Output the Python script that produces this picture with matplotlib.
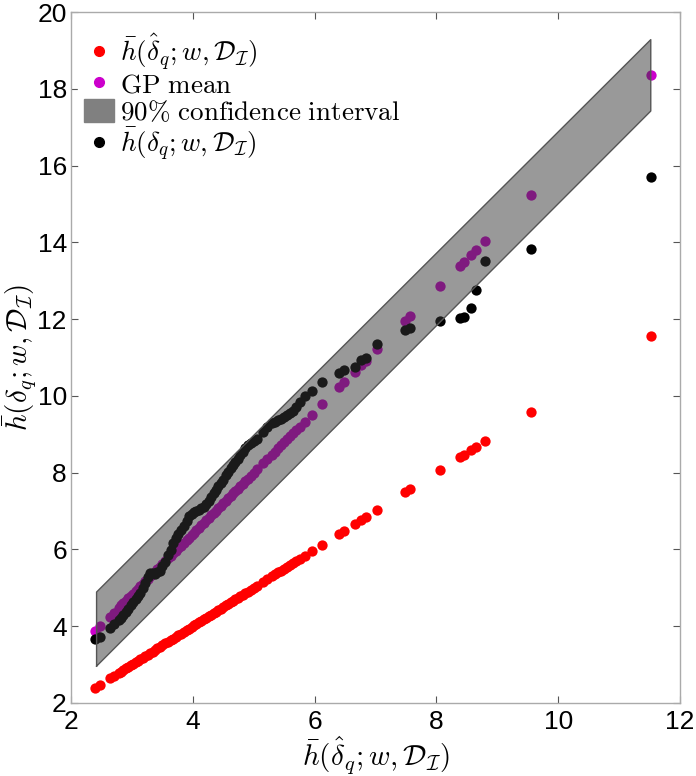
import numpy as np
import matplotlib
matplotlib.use('Agg')
import matplotlib.pyplot as plt
from matplotlib.patches import Patch
from matplotlib.lines import Line2D

# Daten
x_vals = [2.40, 2.48, 2.64, 2.70, 2.78, 2.82, 2.86, 2.90, 2.94, 2.98,
          3.02, 3.06, 3.10, 3.14, 3.18, 3.22, 3.26, 3.30, 3.34, 3.38,
          3.42, 3.46, 3.50, 3.55, 3.60, 3.64, 3.68, 3.72, 3.76, 3.80,
          3.85, 3.90, 3.94, 3.98, 4.02, 4.06, 4.10, 4.14, 4.18, 4.22,
          4.26, 4.30, 4.34, 4.38, 4.42, 4.46, 4.50, 4.54, 4.58, 4.62,
          4.66, 4.70, 4.74, 4.78, 4.82, 4.86, 4.90, 4.95, 5.00, 5.06,
          5.16, 5.22, 5.30, 5.35, 5.40, 5.45, 5.50, 5.55, 5.60, 5.65,
          5.70, 5.76, 5.84, 5.95, 6.12, 6.40, 6.48, 6.66, 6.77, 6.84,
          7.03, 7.49, 7.57, 8.06, 8.39, 8.45, 8.57, 8.65, 8.80, 9.55,
          11.52]

# rote Punkte: h(delta_hat)
red_y = [2.40, 2.48, 2.64, 2.70, 2.78, 2.82, 2.86, 2.90, 2.94, 2.98,
         3.02, 3.06, 3.10, 3.14, 3.18, 3.22, 3.26, 3.30, 3.34, 3.38,
         3.42, 3.46, 3.50, 3.55, 3.60, 3.64, 3.68, 3.72, 3.76, 3.80,
         3.85, 3.90, 3.94, 3.98, 4.02, 4.06, 4.10, 4.14, 4.18, 4.22,
         4.26, 4.30, 4.34, 4.38, 4.42, 4.46, 4.50, 4.54, 4.58, 4.62,
         4.66, 4.70, 4.74, 4.78, 4.82, 4.86, 4.90, 4.95, 5.00, 5.06,
         5.16, 5.22, 5.30, 5.35, 5.40, 5.45, 5.50, 5.55, 5.60, 5.65,
         5.70, 5.76, 5.84, 5.95, 6.12, 6.40, 6.48, 6.66, 6.77, 6.84,
         7.03, 7.50, 7.58, 8.08, 8.41, 8.47, 8.59, 8.67, 8.82, 9.58,
         11.56]

# GP-Mittelwert
gp_mean = [3.87, 4.00, 4.25, 4.34, 4.47, 4.54, 4.60, 4.66, 4.73, 4.79,
           4.85, 4.92, 4.98, 5.04, 5.11, 5.17, 5.23, 5.30, 5.36, 5.42,
           5.49, 5.55, 5.62, 5.69, 5.77, 5.84, 5.90, 5.96, 6.03, 6.09,
           6.17, 6.25, 6.31, 6.38, 6.44, 6.50, 6.57, 6.63, 6.69, 6.76,
           6.82, 6.89, 6.95, 7.01, 7.08, 7.14, 7.20, 7.27, 7.33, 7.39,
           7.46, 7.52, 7.58, 7.65, 7.71, 7.77, 7.84, 7.92, 8.00, 8.09,
           8.25, 8.35, 8.47, 8.55, 8.63, 8.71, 8.79, 8.87, 8.95, 9.03,
           9.11, 9.20, 9.33, 9.51, 9.78, 10.22, 10.35, 10.63, 10.81, 10.92,
           11.22, 11.95, 12.08, 12.86, 13.38, 13.48, 13.67, 13.79, 14.03, 15.24,
           18.35]

# schwarze Punkte: h(delta)
black_y = [3.67, 3.72, 3.95, 4.06, 4.15, 4.21, 4.30, 4.38, 4.45, 4.54,
           4.63, 4.70, 4.78, 4.87, 4.99, 5.12, 5.28, 5.38, 5.38, 5.37,
           5.41, 5.45, 5.57, 5.67, 5.85, 5.99, 6.18, 6.31, 6.41, 6.51,
           6.62, 6.75, 6.86, 6.93, 6.97, 7.00, 7.04, 7.07, 7.11, 7.18,
           7.27, 7.37, 7.47, 7.56, 7.64, 7.72, 7.82, 7.93, 8.03, 8.12,
           8.21, 8.28, 8.36, 8.45, 8.55, 8.65, 8.72, 8.77, 8.82, 8.89,
           9.07, 9.20, 9.29, 9.33, 9.37, 9.41, 9.45, 9.49, 9.55, 9.61,
           9.71, 9.84, 10.01, 10.13, 10.36, 10.60, 10.67, 10.75, 10.93, 10.98,
           11.36, 11.71, 11.77, 11.95, 12.02, 12.05, 12.29, 12.75, 13.51, 13.82,
           15.70]

# 90%-Konfidenzband
band_x = [2.42, 11.52]
band_lo = [2.96, 17.42]
band_hi = [4.89, 19.28]

plt.rcParams['font.family'] = ['Liberation Sans', 'DejaVu Sans']
plt.rcParams['mathtext.fontset'] = 'cm'

fig = plt.figure(figsize=(6.96, 7.76), dpi=100)
ax = fig.add_axes([71/696, 1 - 703/776, (680 - 71)/696, (703 - 12)/776])

ms = 55
ax.scatter(x_vals, red_y, s=ms, color='#ff0000', linewidths=0, zorder=2)
ax.scatter(x_vals, gp_mean, s=ms, color='#cc00cc', linewidths=0, zorder=2)
ax.scatter(x_vals, black_y, s=ms, color='black', linewidths=0, zorder=2)
ax.fill_between(band_x, band_lo, band_hi, facecolor='#343434', alpha=0.5,
                edgecolor='none', zorder=3)
ax.plot(band_x + band_x[::-1] + band_x[:1], band_lo + band_hi[::-1] + band_lo[:1],
        color='#555555', lw=1, zorder=3)

ax.set_xlim(2, 12)
ax.set_ylim(2, 20)
ax.set_xticks(np.arange(2, 13, 2))
ax.set_yticks(np.arange(2, 21, 2))
ax.tick_params(direction='in', length=5, width=0.8, color='#555555',
               labelsize=19, top=True, right=True, pad=5)
ax.tick_params(axis='y', pad=3)
for s in ax.spines.values():
    s.set_color('#aaaaaa')
    s.set_linewidth(1)

ax.set_xlabel(r'$\bar{h}(\hat{\delta}_q; w, \mathcal{D}_{\mathcal{I}})$', fontsize=21, labelpad=0)
ax.set_ylabel(r'$\bar{h}(\delta_q; w, \mathcal{D}_{\mathcal{I}})$', fontsize=21)
ax.yaxis.set_label_coords((39 - 71) / 609, 0.5)

handles = [
    Line2D([], [], ls='none', marker='o', ms=7, color='#ff0000'),
    Line2D([], [], ls='none', marker='o', ms=7, color='#cc00cc'),
    Patch(facecolor='#808080', edgecolor='#808080'),
    Line2D([], [], ls='none', marker='o', ms=7, color='black'),
]
labels = [
    r'$\bar{h}(\hat{\delta}_q; w, \mathcal{D}_{\mathcal{I}})$',
    r'$\mathrm{GP\ mean}$',
    r'$90\%\ \mathrm{confidence\ interval}$',
    r'$\bar{h}(\delta_q; w, \mathcal{D}_{\mathcal{I}})$',
]
leg = ax.legend(handles, labels, loc='upper left', bbox_to_anchor=(0.012, 0.98),
                fontsize=19.5, frameon=True, facecolor='white', edgecolor='white',
                framealpha=1, handlelength=1.1, handleheight=0.95,
                handletextpad=0.25, labelspacing=0.0, borderpad=0.2,
                borderaxespad=0)
leg.set_zorder(5)

plt.savefig('out.png', dpi=100)
